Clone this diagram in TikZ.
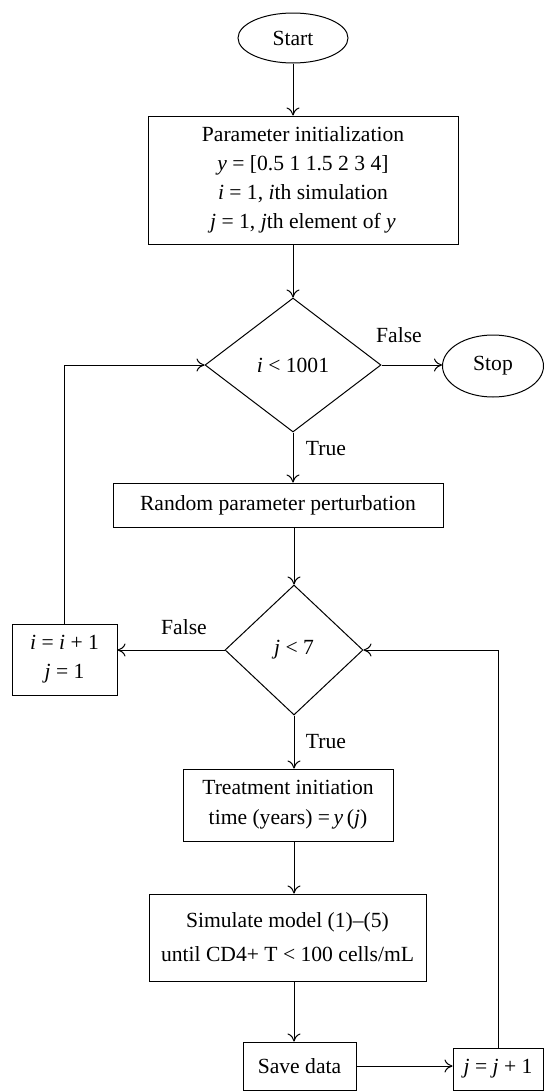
\documentclass[tikz,border=0pt]{standalone}
\usepackage{fontspec}
\setmainfont{Liberation Serif}
\usetikzlibrary{arrows.meta}
\usetikzlibrary{shapes.geometric}

\tikzset{
  terminal/.style={draw, ellipse, inner sep=0pt},
  process/.style={draw, rectangle, align=center, inner sep=0pt},
  decision/.style={draw, diamond, inner sep=0pt},
  flow/.style={-{To[length=4pt,width=6.5pt]}, line width=0.5pt},
}

\begin{document}
\begin{tikzpicture}[x=0.5pt, y=-0.5pt, line width=0.5pt, font=\fontsize{10.8}{14.5}\selectfont]
		\useasboundingbox (0,0) rectangle (544,1092);
		\node[terminal, minimum width=55pt, minimum height=25pt] (start) at (293,38) {Start};
		\node[process, minimum width=155pt, minimum height=64pt] (init) at (303,180) {Parameter initialization\\ \textit{y} = [0.5 1 1.5 2 3 4]\\ \textit{i} = 1, \textit{i}th simulation\\ \textit{j} = 1, \textit{j}th element of \textit{y}};
		\node[decision, minimum width=88pt, minimum height=67pt] (dec1) at (293,365) {\textit{i} < 1001};
		\node[terminal, minimum width=50.5pt, minimum height=31pt] (stop) at (493,366) {Stop};
		\node[process, minimum width=165pt, minimum height=22pt] (rand) at (278,505) {Random parameter perturbation};
		\node[decision, minimum width=69pt, minimum height=65pt] (dec2) at (294,650) {\textit{j} < 7};
		\node[process, minimum width=52.5pt, minimum height=35.5pt] (inc) at (64.5,659.5) {\textit{i} = \textit{i} + 1\\ \textit{j} = 1};
		\node[process, minimum width=105pt, minimum height=36pt] (treat) at (288,805) {Treatment initiation\\[0.5pt] time (years) =\,\textit{y}\,(\textit{j})};
		\node[process, minimum width=138.5pt, minimum height=43.5pt] (sim) at (287.5,937.5) {Simulate model (1)--(5)\\[2.5pt] until CD4+ T < 100 cells/mL};
		\node[process, minimum width=56.5pt, minimum height=24pt] (save) at (299.5,1066) {Save data};
		\node[process, minimum width=45pt, minimum height=21pt] (jinc) at (498,1069) {\textit{j} = \textit{j} + 1};

		\node (false1) at (399,335) {False};
		\node (true1) at (326,449) {True};
		\node (false2) at (184,627) {False};
		\node (true2) at (326,742) {True};

		\draw[flow] (start.south) -- (start.south |- init.north);
		\draw[flow] (init.south -| dec1.north) -- (dec1.north);
		\draw[flow] (dec1.east) -- (dec1.east -| stop.west);
		\draw[flow] (dec1.south) -- (dec1.south |- rand.north);
		\draw[flow] (rand.south -| dec2.north) -- (dec2.north);
		\draw[flow] (dec2.west) -- (dec2.west -| inc.east);
		\draw[flow] (inc.north) |- (dec1.west);
		\draw[flow] (dec2.south) -- (dec2.south |- treat.north);
		\draw[flow] (treat.south -| dec2.south) -- (dec2.south |- sim.north);
		\draw[flow] (sim.south -| dec2.south) -- (dec2.south |- save.north);
		\draw[flow] (save.east) -- (save.east -| jinc.west);
		\draw[flow] (jinc.north) |- (dec2.east);
		
		\end{tikzpicture}
\end{document}
